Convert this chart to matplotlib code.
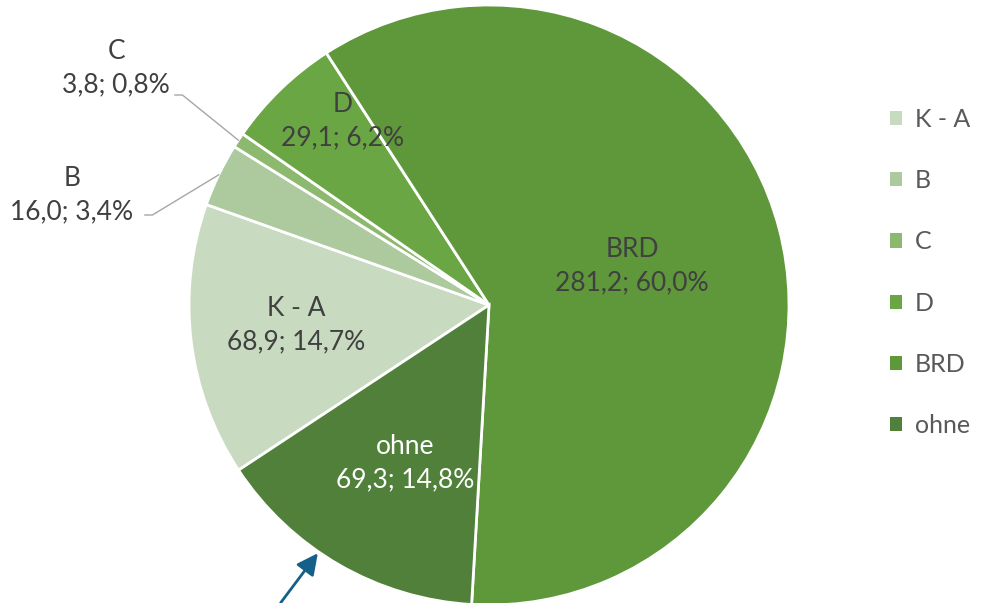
import matplotlib.pyplot as plt
import numpy as np

plt.rcParams['font.family'] = ['Lato', 'DejaVu Sans']

kategorien = ['K - A', 'B', 'C', 'D', 'BRD', 'ohne']
werte = [68.9, 16.0, 3.8, 29.1, 281.2, 69.3]
prozent = ['14,7%', '3,4%', '0,8%', '6,2%', '60,0%', '14,8%']
farben = ['#c8dbc0', '#adc99e', '#8db96f', '#6aa644', '#5f973b', '#50803a']

fig = plt.figure(figsize=(9.81, 6.03), dpi=100)
ax = fig.add_axes([0, 0, 1, 1])

wedges, _ = ax.pie(werte, colors=farben, startangle=213.4, counterclock=False,
                   radius=1.0, center=(0, 0),
                   wedgeprops=dict(edgecolor='white', linewidth=2))

ax.set_xlim(-489 / 300, (981 - 489) / 300)
ax.set_ylim((305 - 603) / 300, 305 / 300)
ax.set_aspect('equal')
ax.axis('off')


def fmt(v):
    return f"{v:.1f}".replace('.', ',')


# label positions (data units, pie radius = 1)
label_pos = {0: (-0.643, -0.067), 1: (-1.39, 0.367), 2: (-1.243, 0.79),
             3: (-0.487, 0.613), 4: (0.477, 0.13), 5: (-0.28, -0.527)}
# start of leader lines for labels outside the pie
leader = {1: (-1.147, 0.30), 2: (-1.047, 0.70)}

for i, w in enumerate(wedges):
    mitte = np.deg2rad((w.theta1 + w.theta2) / 2)
    txt = f"{kategorien[i]}\n{fmt(werte[i])}; {prozent[i]}"
    farbe = 'white' if kategorien[i] == 'ohne' else '#404040'
    tx, ty = label_pos[i]
    ax.text(tx, ty, txt, ha='center', va='center', fontsize=19,
            color=farbe, linespacing=1.4)
    if i in leader:
        lx, ly = leader[i]
        ax.plot([lx, lx + 0.025, np.cos(mitte)], [ly, ly, np.sin(mitte)],
                color='#a6a6a6', lw=1)

# arrow pointing to the "ohne" slice
ax.annotate('', xy=(-0.565, -0.82), xytext=(-0.70, -1.0),
            arrowprops=dict(arrowstyle='-|>', color='#156089', lw=2,
                            mutation_scale=32))

leg = ax.legend(wedges, kategorien, loc='center left', bbox_to_anchor=(0.884, 0.548),
                frameon=False, fontsize=18, labelcolor='#595959',
                handlelength=0.5, handleheight=0.5, handletextpad=0.5,
                labelspacing=1.53)
for h in leg.legend_handles:
    h.set_edgecolor('none')

plt.savefig('out.png', dpi=100)
